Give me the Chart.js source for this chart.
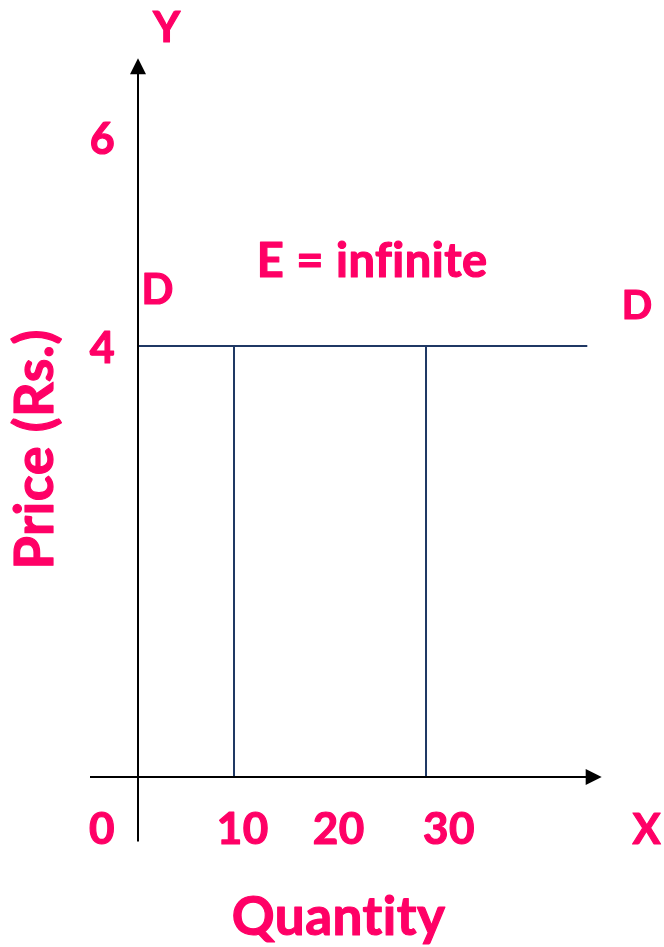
<!DOCTYPE html>
<html>
<head>
<meta charset="utf-8">
<script src="https://cdn.jsdelivr.net/npm/chart.js@4"></script>
<style>
  html, body { margin: 0; padding: 0; background: #fff; }
  #wrap { width: 664px; height: 947px; position: relative; }
</style>
</head>
<body>
<div id="wrap"><canvas id="chartCanvas"></canvas></div>
<script>
// demand is flat at one price, two quantities marked under it
let price = 4
let demandQty = [0, 46.8]
let markedQty = [10, 30]
let xTickLabels = ['0', '10', '20', '30']
let yTickLabels = ['6', '4']

let pink = '#FF0066'
let navy = '#1F3864'

// text placed in data units, baseline position
let texts = [
    { t: 'Y', x: 3.0, y: 6.82, size: 42 },
    { t: yTickLabels[0], x: -3.7, y: 5.78, size: 43 },
    { t: 'D', x: 2.05, y: 4.39, size: 42 },
    { t: yTickLabels[1], x: -3.7, y: 3.84, size: 43 },
    { t: 'E = infinite', x: 24.4, y: 4.64, size: 47 },
    { t: 'D', x: 52.0, y: 4.25, size: 40 },
    { t: xTickLabels[0], x: -3.75, y: -0.62, size: 44 },
    { t: xTickLabels[1], x: 10.9, y: -0.62, size: 44 },
    { t: xTickLabels[2], x: 20.9, y: -0.62, size: 44 },
    { t: xTickLabels[3], x: 32.4, y: -0.62, size: 44 },
    { t: 'X', x: 53.0, y: -0.62, size: 42 },
    { t: 'Quantity', x: 20.9, y: -1.47, size: 53 },
]

function drawText(ctx, t, x, y) {
    ctx.fillText(t, x, y)
    ctx.strokeText(t, x, y)
}

let arrows = {
    id: 'arrows',
    afterDatasetsDraw(chart) {
        let ctx = chart.ctx
        let xs = chart.scales.x, ys = chart.scales.y
        ctx.save()
        ctx.fillStyle = '#000'
        // x arrow
        let ax = xs.getPixelForValue(48.3), ay = ys.getPixelForValue(0)
        ctx.beginPath()
        ctx.moveTo(ax, ay)
        ctx.lineTo(ax - 16, ay - 8)
        ctx.lineTo(ax - 16, ay + 8)
        ctx.closePath()
        ctx.fill()
        // y arrow
        let bx = xs.getPixelForValue(0), by = ys.getPixelForValue(6.67)
        ctx.beginPath()
        ctx.moveTo(bx, by)
        ctx.lineTo(bx - 8, by + 16)
        ctx.lineTo(bx + 8, by + 16)
        ctx.closePath()
        ctx.fill()

        ctx.fillStyle = pink
        ctx.strokeStyle = pink
        ctx.lineWidth = 1.2
        ctx.lineJoin = 'round'
        ctx.letterSpacing = '0.5px'  // also stops the fi ligature
        ctx.textAlign = 'center'
        ctx.textBaseline = 'alphabetic'
        texts.forEach(d => {
            ctx.font = 'bold ' + d.size + 'px Lato'
            drawText(ctx, d.t, xs.getPixelForValue(d.x), ys.getPixelForValue(d.y))
        })
        // rotated y title
        ctx.translate(xs.getPixelForValue(-8.85), ys.getPixelForValue(3.04))
        ctx.rotate(-Math.PI / 2)
        ctx.font = 'bold 54px Lato'
        drawText(ctx, 'Price (Rs.)', 0, 0)
        ctx.restore()
    }
}

function line(points, color) {
    return {
        data: points,
        showLine: true,
        borderColor: color,
        borderWidth: 2,
        pointRadius: 0,
        fill: false
    }
}

let datasets = [
    line([{ x: -5, y: 0 }, { x: 46.7, y: 0 }], '#000'),
    line([{ x: 0, y: -0.6 }, { x: 0, y: 6.55 }], '#000'),
    line(demandQty.map(q => ({ x: q, y: price })), navy),
    ...markedQty.map(q => line([{ x: q, y: 0 }, { x: q, y: price }], navy))
]

let chart = new Chart(document.getElementById('chartCanvas'), {
    type: 'scatter',
    data: { datasets: datasets },
    options: {
        responsive: true,
        maintainAspectRatio: false,
        animation: false,
        layout: { padding: 0 },
        plugins: { legend: { display: false }, tooltip: { enabled: false } },
        scales: {
            x: { type: 'linear', display: false, min: -14.375, max: 54.79 },
            y: { type: 'linear', display: false, min: -1.578, max: 7.211 }
        }
    },
    plugins: [arrows]
})
</script>
</body>
</html>
